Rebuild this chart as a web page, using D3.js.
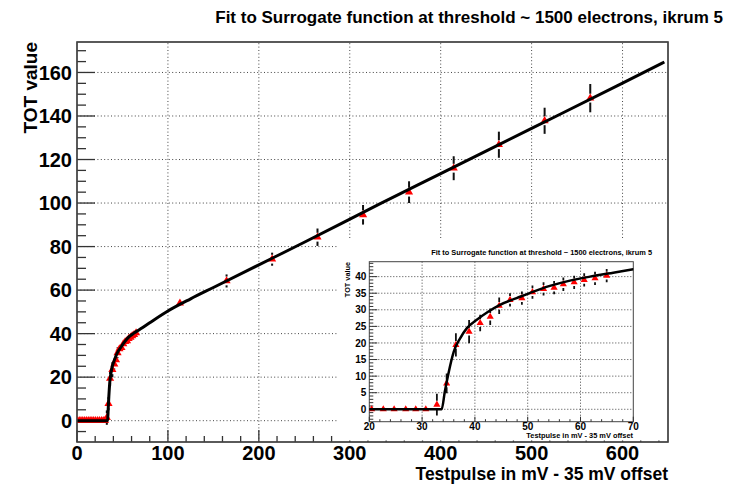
<!DOCTYPE html>
<html><head><meta charset="utf-8">
<script src="https://cdn.jsdelivr.net/npm/d3@7/dist/d3.min.js"></script>
<style>body{margin:0;background:#fff}svg{display:block}</style>
</head><body><svg id="c" width="734" height="484"></svg>
<script>
const titleText = "Fit to Surrogate function at threshold ~ 1500 electrons, ikrum 5";
const xTitle = "Testpulse in mV - 35 mV offset";
const yTitle = "TOT value";

const pointX = [0.3, 2.4, 4.4, 6.4, 8.4, 10.4, 12.4, 14.4, 16.4, 18.4, 20.45, 22.65, 24.7, 26.9, 28.8, 30.7,
  32.8, 34.65, 36.4, 38.9, 41.0, 42.9, 44.6, 46.65, 48.9, 50.9, 53.0, 55.0, 56.75, 58.8, 60.7, 62.75, 64.96,
  113.2, 164.5, 214.6, 264.5, 314.6, 365.2, 414.3, 464.0, 514.3, 564.5];
const pointY = [0, 0, 0, 0, 0, 0, 0, 0, 0, 0, 0, 0, 0, 0, 0, 0,
  1.4, 7.8, 19.4, 23.4, 26.0, 27.9, 31.2, 33.0, 33.5, 35.3, 36.3, 36.7, 37.7, 38.3, 39.0, 39.5, 40.3,
  54.0, 64.2, 74.2, 84.3, 94.6, 105.0, 116.0, 126.8, 137.8, 148.2];
const pointErr = [0, 0, 0, 0, 0, 0, 0, 0, 0, 0, 0, 0, 0, 0, 0, 0,
  3.3, 3.0, 3.5, 3.5, 2.5, 2.5, 2.5, 2, 2, 2, 2, 2, 2, 2, 2, 2, 2,
  1.5, 3, 3, 4, 4.5, 5, 5.5, 6, 6, 6.5];

const fitX = [0, 33.7, 34.3, 35.0, 36.0, 37.2, 38.45, 40.3, 42.5, 44.75, 47.9, 51.1, 54.2, 58.0, 61.8, 66.2, 70,
  80, 100, 125, 150, 200, 250, 333, 400, 500, 600, 646];
const fitY = [0, 0, 5.3, 10.9, 17.4, 21.4, 24.4, 26.9, 29.4, 31.5, 33.5, 35.5, 37.2, 38.8, 40.0, 41.2, 42.2,
  45.0, 50.4, 56.0, 61.2, 71.6, 82.0, 99.6, 113.5, 134.3, 155.1, 164.8];

const mainXTicks = [0, 100, 200, 300, 400, 500, 600];
const mainYTicks = [0, 20, 40, 60, 80, 100, 120, 140, 160];
const insetXTicks = [20, 30, 40, 50, 60, 70];
const insetYTicks = [0, 5, 10, 15, 20, 25, 30, 35, 40];

const svg = d3.select("#c");
const FONT = "'Liberation Sans', Arial, Helvetica, sans-serif";
const pts = pointX.map((x, i) => ({x, y: pointY[i], e: pointErr[i]}));
const fit = fitX.map((x, i) => ({x, y: fitY[i]}));

function drawPanel(g, o) {
  const {x, y, xMinor, yMinor, xTicks, yTicks} = o;
  const [x0, x1] = x.range(), [y0, y1] = y.range();
  const id = o.id;
  g.append("clipPath").attr("id", id).append("rect")
    .attr("x", x0).attr("y", y1).attr("width", x1 - x0).attr("height", y0 - y1);
  const grid = g.append("g").attr("stroke", "#444").attr("stroke-width", 1).attr("stroke-dasharray", o.dash);
  grid.selectAll(".gx").data(xTicks.filter(t => t > x.domain()[0] && t < x.domain()[1])).join("line")
    .attr("x1", d => x(d)).attr("x2", d => x(d)).attr("y1", y0).attr("y2", y1);
  grid.selectAll(".gy").data(yTicks).join("line")
    .attr("y1", d => y(d)).attr("y2", d => y(d)).attr("x1", x0).attr("x2", x1);
  g.append("rect").attr("x", x0).attr("y", y1).attr("width", x1 - x0).attr("height", y0 - y1)
    .attr("fill", "none").attr("stroke", "#444").attr("stroke-width", o.frameW);
  const tk = g.append("g").attr("stroke", "#333").attr("stroke-width", o.tickW);
  tk.selectAll(".xm").data(xMinor).join("line")
    .attr("x1", d => x(d)).attr("x2", d => x(d)).attr("y1", y0).attr("y2", d => y0 - (xTicks.includes(d) ? o.xTickL : o.xTickL / 2));
  tk.selectAll(".ym").data(yMinor).join("line")
    .attr("y1", d => y(d)).attr("y2", d => y(d)).attr("x1", x0).attr("x2", d => x0 + (yTicks.includes(d) ? o.yTickL : o.yTickL / 2));
  g.append("g").selectAll("text").data(xTicks).join("text")
    .attr("x", d => x(d)).attr("y", y0 + o.xLabOff).attr("text-anchor", "middle")
    .attr("font-family", FONT).attr("font-weight", "bold").attr("font-size", o.labSize).attr("fill", "#000")
    .text(d => d);
  g.append("g").selectAll("text").data(yTicks).join("text")
    .attr("x", x0 - o.yLabOff).attr("y", d => y(d)).attr("dy", "0.36em").attr("text-anchor", "end")
    .attr("font-family", FONT).attr("font-weight", "bold").attr("font-size", o.labSize).attr("fill", "#000")
    .text(d => d);
  const inner = g.append("g").attr("clip-path", `url(#${id})`);
  const P = pts.filter(p => p.x >= x.domain()[0] - 1 && p.x <= x.domain()[1] + 1);
  const ms = o.marker;
  const gap = ms * 0.55;
  const eb = inner.append("g").attr("stroke", "#111").attr("stroke-width", o.errW);
  P.forEach(p => {
    const cy = y(p.y), top = y(p.y + p.e), bot = y(p.y - p.e), cx = x(p.x);
    if (cy - top > gap) {
      eb.append("line").attr("x1", cx).attr("x2", cx).attr("y1", top).attr("y2", cy - gap);
      eb.append("line").attr("x1", cx).attr("x2", cx).attr("y1", cy + gap).attr("y2", bot);
    }
  });
  inner.append("g").selectAll("path").data(P).join("path")
    .attr("d", d3.symbol(d3.symbolTriangle, ms * ms * 0.45)())
    .attr("transform", d => `translate(${x(d.x)},${y(d.y)})`)
    .attr("fill", "#ff0000");
  inner.append("path").datum(fit)
    .attr("d", d3.line().x(d => x(d.x)).y(d => y(d.y)).curve(d3.curveMonotoneX))
    .attr("fill", "none").attr("stroke", "#000").attr("stroke-width", o.fitW).attr("stroke-linejoin", "round");
}

const mx = d3.scaleLinear([0, 650], [77, 668]);
const my = d3.scaleLinear([-9.8, 174], [442, 42]);
const gm = svg.append("g");
drawPanel(gm, {
  id: "clipMain", x: mx, y: my, xTicks: mainXTicks, yTicks: mainYTicks,
  xMinor: d3.range(0, 651, 20), yMinor: d3.range(-5, 174, 5),
  dash: "1,2.4", frameW: 1.3, tickW: 1.3, xTickL: 12, yTickL: 18,
  xLabOff: 18, yLabOff: 5, labSize: 20, marker: 8, errW: 2, fitW: 3
});
svg.append("text").attr("x", 668).attr("y", 480.2).attr("text-anchor", "end")
  .attr("font-family", FONT).attr("font-weight", "bold").attr("font-size", 17.5).text(xTitle);
svg.append("text").attr("transform", "translate(37,42) rotate(-90)").attr("text-anchor", "end")
  .attr("font-family", FONT).attr("font-weight", "bold").attr("font-size", 19).text(yTitle);
svg.append("text").attr("x", 723).attr("y", 23).attr("text-anchor", "end")
  .attr("font-family", FONT).attr("font-weight", "bold").attr("font-size", 17).text(titleText);

svg.append("rect").attr("x", 337).attr("y", 240).attr("width", 330).attr("height", 200.5).attr("fill", "#fff");
const ix = d3.scaleLinear([20, 70], [369.3, 633.3]);
const iy = d3.scaleLinear([-3.74, 44.5], [421.7, 261.7]);
const gi = svg.append("g");
drawPanel(gi, {
  id: "clipInset", x: ix, y: iy, xTicks: insetXTicks, yTicks: insetYTicks,
  xMinor: d3.range(20, 71, 2), yMinor: d3.range(-3, 44.6, 1),
  dash: "1,2", frameW: 1, tickW: 1, xTickL: 5, yTickL: 8,
  xLabOff: 8.5, yLabOff: 3, labSize: 10, marker: 7, errW: 1.8, fitW: 2.5
});
svg.append("text").attr("x", 633).attr("y", 438).attr("text-anchor", "end")
  .attr("font-family", FONT).attr("font-weight", "bold").attr("font-size", 7.4).text(xTitle);
svg.append("text").attr("transform", "translate(350,262) rotate(-90)").attr("text-anchor", "end")
  .attr("font-family", FONT).attr("font-weight", "bold").attr("font-size", 7.3).text(yTitle);
svg.append("text").attr("x", 652).attr("y", 255).attr("text-anchor", "end")
  .attr("font-family", FONT).attr("font-weight", "bold").attr("font-size", 7.4).text(titleText);
svg.append("rect").attr("x", 77).attr("y", 42).attr("width", 591).attr("height", 400)
  .attr("fill", "none").attr("stroke", "#444").attr("stroke-width", 1.3);
</script></body></html>
